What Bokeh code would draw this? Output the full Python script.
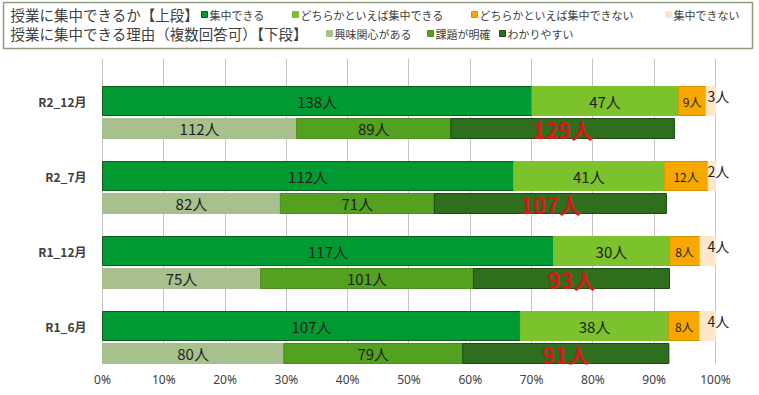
from bokeh.plotting import figure
from bokeh.models import Range1d, ColumnDataSource, FixedTicker
from bokeh.layouts import column
from bokeh.core.properties import value
from bokeh.embed import file_html
from bokeh.resources import INLINE

# ---------------- data ----------------
categories = ["R2_12月", "R2_7月", "R1_12月", "R1_6月"]

focus_names = ["集中できる", "どちらかといえば集中できる", "どちらかといえば集中できない", "集中できない"]
focus_can = [138, 112, 117, 107]
focus_rather_can = [47, 41, 30, 38]
focus_rather_cannot = [9, 12, 8, 8]
focus_cannot = [3, 2, 4, 4]

reason_names = ["興味関心がある", "課題が明確", "わかりやすい"]
reason_interest = [112, 82, 75, 80]
reason_clear = [89, 71, 101, 79]
reason_easy = [129, 107, 93, 91]
# share of the axis (in %) covered by the lower (reason) bar
reason_extent = [93.3, 92.0, 92.5, 92.4]

x_ticks = [0, 10, 20, 30, 40, 50, 60, 70, 80, 90, 100]
x_tick_labels = ["0%", "10%", "20%", "30%", "40%", "50%", "60%", "70%", "80%", "90%", "100%"]

title_top = "授業に集中できるか【上段】"
title_bottom = "授業に集中できる理由（複数回答可）【下段】"

# ---------------- styles ----------------
JP = value("Noto Sans CJK JP")
focus_fill = ["#009A33", "#7BC22C", "#F6A800", "#FCE7CA"]
focus_line = ["#0C5A1C", "#7BC22C", "#D89200", "#FCE7CA"]
focus_text_size = ["15px", "15px", "12px", "14px"]
reason_fill = ["#A8C08E", "#54A01F", "#2F6E1D"]
reason_line = ["#A8C08E", "#4A8F1A", "#1C4A10"]

n = len(categories)
upper_y = [42.5 + 75 * i for i in range(n)]
lower_y = [y + 27.5 for y in upper_y]

# ---------------- main figure ----------------
p = figure(frame_width=759, frame_height=306, min_border_left=0, min_border_right=0,
           min_border_top=8, min_border_bottom=28,
           x_range=Range1d(-16.64, 107.18), y_range=Range1d(306, 0),
           output_backend="svg", toolbar_location=None)
p.yaxis.visible = False
p.ygrid.visible = False
p.outline_line_color = None
p.background_fill_color = "white"
p.border_fill_color = "white"

p.xaxis.ticker = FixedTicker(ticks=x_ticks)
p.xaxis.major_label_overrides = {t: l for t, l in zip(x_ticks, x_tick_labels)}
p.xaxis.axis_line_color = None
p.xaxis.major_tick_line_color = None
p.xaxis.major_tick_out = 0
p.xaxis.major_tick_in = 0
p.xaxis.minor_tick_line_color = None
p.xaxis.minor_tick_out = 0
p.xaxis.major_label_standoff = 6
p.xaxis.major_label_text_font = "Noto Sans"
p.xaxis.major_label_text_font_size = "12px"
p.xaxis.major_label_text_color = "#404040"
p.xgrid.ticker = FixedTicker(ticks=x_ticks)
p.xgrid.grid_line_color = "#C4C4C4"
p.xgrid.grid_line_width = 1

# upper bars (100% stacked)
focus_series = [focus_can, focus_rather_can, focus_rather_cannot, focus_cannot]
focus_totals = [sum(v) for v in zip(*focus_series)]
left = [0.0] * n
for k, vals in enumerate(focus_series):
    right = [l + v / t * 100 for l, v, t in zip(left, vals, focus_totals)]
    src = ColumnDataSource(dict(y=upper_y, left=left, right=right,
                                mid=[(a + b) / 2 for a, b in zip(left, right)],
                                lab=[f"{v}人" for v in vals]))
    p.hbar(y="y", left="left", right="right", height=29, source=src,
           fill_color=focus_fill[k], line_color=focus_line[k], line_width=1)
    if k < 3:
        p.text(x="mid", y="y", text="lab", source=src, text_font=JP,
               text_font_size=focus_text_size[k], text_color="#1E1E1E",
               text_align="center", text_baseline="middle")
    else:
        p.text(x="right", y="y", text="lab", source=src, text_font=JP,
               text_font_size=focus_text_size[k], text_color="#1E1E1E",
               text_align="left", text_baseline="middle", x_offset=-8, y_offset=-5)
    left = right

# lower bars (reasons)
reason_series = [reason_interest, reason_clear, reason_easy]
reason_totals = [sum(v) for v in zip(*reason_series)]
left = [0.0] * n
for k, vals in enumerate(reason_series):
    right = [l + v / t * e for l, v, t, e in zip(left, vals, reason_totals, reason_extent)]
    src = ColumnDataSource(dict(y=lower_y, left=left, right=right,
                                mid=[(a + b) / 2 for a, b in zip(left, right)],
                                lab=[f"{v}人" for v in vals]))
    p.hbar(y="y", left="left", right="right", height=20, source=src,
           fill_color=reason_fill[k], line_color=reason_line[k], line_width=1)
    if k < 2:
        p.text(x="mid", y="y", text="lab", source=src, text_font=JP,
               text_font_size="15px", text_color="#1E1E1E",
               text_align="center", text_baseline="middle")
    else:
        p.text(x="mid", y="y", text="lab", source=src, text_font=JP,
               text_font_size="22px", text_font_style="bold", text_color="#D21A1A",
               text_align="center", text_baseline="middle")
    left = right

# category labels
p.text(x=[0] * n, y=upper_y, text=categories, text_font=JP, text_font_size="12px",
       text_font_style="bold", text_color="#404040", text_align="right",
       text_baseline="middle", x_offset=-16)

# ---------------- legend figure ----------------
lf = figure(frame_width=759, frame_height=50, min_border=0,
            x_range=Range1d(0, 759), y_range=Range1d(50, 0),
            output_backend="svg", toolbar_location=None)
lf.axis.visible = False
lf.grid.visible = False
lf.outline_line_color = None
lf.quad(left=[3], right=[752], top=[2], bottom=[48], fill_color="white",
        line_color="#8E9C80", line_width=1.5)

row_y = [14, 33]
lf.text(x=[10, 10], y=row_y, text=[title_top, title_bottom], text_font=JP,
        text_font_size="14.5px", text_color="#404040", text_baseline="middle")

sq_x_top = [204, 295, 474, 668]
sq_x_bot = [329, 430, 502]
lf.rect(x=sq_x_top, y=[row_y[0]] * 4, width=6, height=6, fill_color=focus_fill,
        line_color=focus_line)
lf.text(x=[x + 5 for x in sq_x_top], y=[row_y[0]] * 4, text=focus_names, text_font=JP,
        text_font_size="11px", text_color="#404040", text_baseline="middle")
lf.rect(x=sq_x_bot, y=[row_y[1]] * 3, width=6, height=6, fill_color=reason_fill,
        line_color=reason_line)
lf.text(x=[x + 5 for x in sq_x_bot], y=[row_y[1]] * 3, text=reason_names, text_font=JP,
        text_font_size="11px", text_color="#404040", text_baseline="middle")

layout = column(lf, p, spacing=0)
open("out.html", "w").write(file_html(layout, INLINE))
